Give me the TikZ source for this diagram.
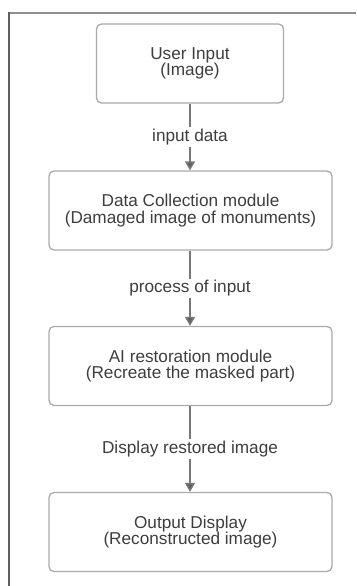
\documentclass[tikz,border=0pt]{standalone}
\usepackage{fontspec}
\setmainfont{Liberation Sans}
\usetikzlibrary{arrows.meta}
\definecolor{boxgrey}{RGB}{170,170,170}
\definecolor{linegrey}{RGB}{120,120,120}
\definecolor{textgrey}{RGB}{62,62,62}
\definecolor{framegrey}{RGB}{95,95,95}
\tikzset{
  modbox/.style={draw=boxgrey, line width=1.3pt, rounded corners=5pt, fill=white,
    align=center, text=textgrey, inner sep=0pt,
    font=\fontsize{17.2}{16.5}\selectfont, minimum height=79pt},
  flowlbl/.style={fill=white, text=textgrey, inner sep=1.5pt,
    font=\fontsize{17.2}{16.5}\selectfont},
  flowarr/.style={draw=linegrey, line width=1.4pt,
    -{Triangle[length=9pt,width=10pt,fill=framegrey]}}
}

\begin{document}
\begin{tikzpicture}[x=1pt,y=-1pt]
  \useasboundingbox (0,0) rectangle (356,586);
  % page frame
  \draw[framegrey!70, line width=2pt] (8,13.5) -- (356,13.5);
  \draw[framegrey, line width=2.2pt] (9,12.5) -- (9,586);
  % modules
  \node[modbox, minimum width=187pt] (user) at (190,63.5) {User Input\\(Image)};
  \node[modbox, minimum width=283pt] (collect) at (190.5,210.5) {Data Collection module\\(Damaged image of monuments)};
  \node[modbox, minimum width=283pt] (restore) at (190.5,366) {AI restoration module\\(Recreate the masked part)};
  \node[modbox, minimum width=283pt] (output) at (190.5,532) {Output Display\\(Reconstructed image)};
  % connectors
  \draw[flowarr] (user.south -| 190,0) -- node[flowlbl, pos=0.5] (lbla) {input data} (collect.north -| 190,0);
  \draw[flowarr] (collect.south -| 190,0) -- node[flowlbl, pos=0.5] (lblb) {process of input} (restore.north -| 190,0);
  \draw[flowarr] (restore.south -| 190,0) -- node[flowlbl, pos=0.5] (lblc) {Display restored image} (output.north -| 190,0);
\end{tikzpicture}
\end{document}
